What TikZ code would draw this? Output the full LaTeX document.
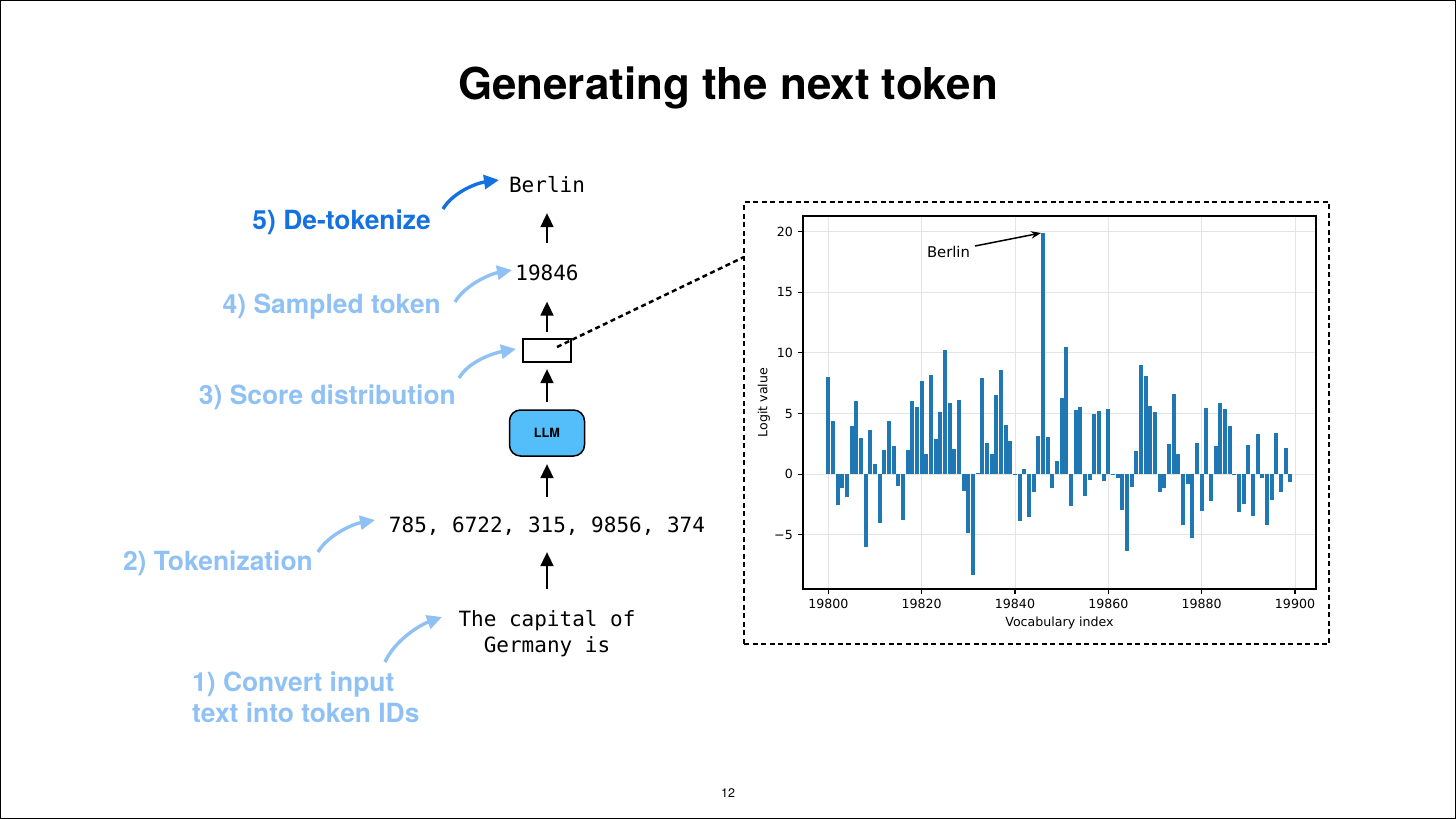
\documentclass[tikz,border=0pt]{standalone}
\usepackage{fontspec}
\setmainfont{TeX Gyre Heros}
\newfontfamily\monofont{DejaVu Sans Mono}
\newfontfamily\plotfont{DejaVu Sans}
\usetikzlibrary{arrows.meta}
\definecolor{lblue}{RGB}{143,193,245}
\definecolor{dblue}{RGB}{20,113,226}
\definecolor{llmfill}{RGB}{84,190,250}
\definecolor{mplblue}{RGB}{31,119,180}
\definecolor{gridgray}{RGB}{228,228,228}
\begin{document}
\begin{tikzpicture}[x=1pt,y=-1pt,
  lbl/.style={font=\fontsize{26.4}{31}\selectfont\bfseries, text=lblue, inner sep=0pt},
  dlbl/.style={font=\fontsize{26.4}{31}\selectfont\bfseries, text=dblue, inner sep=0pt},
  monotext/.style={font=\monofont\fontsize{21}{25.5}\selectfont, inner sep=0pt},
  curvearrow/.style={line width=3.4pt, color=lblue, -{Triangle[length=15pt,width=14pt]}},
  dcurvearrow/.style={curvearrow, color=dblue},
  barrow/.style={line width=2.8pt, -{Triangle[length=14pt,width=12.5pt]}},
  plottext/.style={font=\plotfont\fontsize{12.6}{15}\selectfont, inner sep=0pt},
  dashedline/.style={line width=2.5pt, dash pattern=on 5pt off 3.5pt}
]
\useasboundingbox (0,0) rectangle (1456,819);
\draw[line width=1pt] (0.5,0.5) rectangle (1455.5,818.5);

% title and page number
\node[anchor=base, inner sep=0pt, font=\fontsize{43.9}{52}\selectfont\bfseries] (title) at (728,99) {Generating the next token};
\node[anchor=base, inner sep=0pt, font=\fontsize{12.5}{15}\selectfont] (page) at (728,797) {12};

% central column
\node[monotext, anchor=base] (berlin) at (547,192) {Berlin};
\node[monotext, anchor=base] (tok) at (547,280) {19846};
\node[draw, line width=2pt, minimum width=48pt, minimum height=23pt, inner sep=0pt] (score) at (547,350.5) {};
\node[draw, line width=1.5pt, fill=llmfill, rounded corners=11pt, minimum width=75pt, minimum height=46pt, inner sep=0pt,
      font=\fontsize{12.7}{15}\selectfont\bfseries] (llm) at (547,433) {LLM};
\node[monotext, anchor=base] (ids) at (547,532) {785, 6722, 315, 9856, 374};
\node[monotext, anchor=base, align=center] (input) at (547,652) {The capital of\\Germany is};

\coordinate (a1s) at (547,243); \coordinate (a1e) at (547,213);
\coordinate (a2s) at (547,332); \coordinate (a2e) at (547,301.5);
\coordinate (a3s) at (547,402); \coordinate (a3e) at (547,369);
\coordinate (a4s) at (547,497); \coordinate (a4e) at (547,464);
\coordinate (a5s) at (547,589); \coordinate (a5e) at (547,552);
\draw[barrow] (a1s) -- (a1e);
\draw[barrow] (a2s) -- (a2e);
\draw[barrow] (a3s) -- (a3e);
\draw[barrow] (a4s) -- (a4e);
\draw[barrow] (a5s) -- (a5e);

% step labels
\node[dlbl, anchor=base east] (l5) at (431,229.5) {5) De-tokenize};
\node[lbl, anchor=base east] (l4) at (441,313.5) {4) Sampled token};
\node[lbl, anchor=base east] (l3) at (456,404.5) {3) Score distribution};
\node[lbl, anchor=base east] (l2) at (313,570.5) {2) Tokenization};
\node[lbl, anchor=base west, align=left] (l1) at (192,722.5) {1) Convert input\\text into token IDs};

\coordinate (c5s) at (443,209); \coordinate (c5e) at (499,180);
\coordinate (c4s) at (455,302); \coordinate (c4e) at (512,270);
\coordinate (c3s) at (459,378); \coordinate (c3e) at (516,349);
\coordinate (c2s) at (318,552); \coordinate (c2e) at (375,520);
\coordinate (c1s) at (385,662); \coordinate (c1e) at (442,617);
\draw[dcurvearrow] (c5s) .. controls +(10,-17) and +(-22,3) .. (c5e);
\draw[curvearrow] (c4s) .. controls +(10,-17) and +(-22,4) .. (c4e);
\draw[curvearrow] (c3s) .. controls +(10,-17) and +(-22,4) .. (c3e);
\draw[curvearrow] (c2s) .. controls +(10,-17) and +(-22,4) .. (c2e);
\draw[curvearrow] (c1s) .. controls +(10,-22) and +(-22,8) .. (c1e);

% dashed frame and connector
\node[draw, dashedline, minimum width=585pt, minimum height=442pt, inner sep=0pt] (frame) at (1036.5,423) {};
\coordinate (dl1) at (557,347);
\coordinate (dl2) at (744,257);
\draw[dashedline] (dl1) -- (dl2);

% chart
\begin{scope}[shift={(828.3,474.1)}, x=4.667pt, y=12.12pt]
  % grid
  \foreach \gx in {0,20,...,100} \draw[gridgray, line width=0.9pt] (\gx,-9.48) -- (\gx,21.3);
  \foreach \gy in {-5,0,...,20} \draw[gridgray, line width=0.9pt] (-5.42,\gy) -- (104.5,\gy);
  % bars
  \foreach \v [count=\i from 0] in {8.0, 4.38, -2.55, -1.17, -1.9, 4.0, 6.05, 2.97, -6.0, 3.6,
    0.86, -4.05, 2.0, 4.38, 2.3, -0.97, -3.75, 1.97, 6.02, 5.5,
    7.7, 1.66, 8.2, 2.86, 5.16, 10.26, 5.85, 2.05, 6.13, -1.36,
    -4.9, -8.3, 0.08, 7.93, 2.55, 1.64, 6.55, 8.63, 4.02, 2.72,
    -0.11, -3.86, 0.42, -3.55, -1.44, 3.13, 19.9, 3.1, -1.11, 1.05,
    6.3, 10.5, -2.64, 5.33, 5.55, -1.8, -0.5, 5.0, 5.19, -0.55,
    5.35, -0.03, -0.33, -2.94, -6.38, -1.05, 1.91, 9.0, 8.07, 5.66,
    5.1, -1.47, -1.11, 2.47, 6.63, 1.64, -4.22, -0.83, -5.3, 2.55,
    -3.02, 5.44, -2.25, 2.3, 5.85, 5.35, 3.97, -0.11, -3.16, -2.47,
    2.41, -3.47, 3.27, -0.3, -4.16, -2.16, 3.41, -1.47, 2.16, -0.67}
    \fill[mplblue] (\i-0.4,0) rectangle (\i+0.4,\v);
  % axes
  \draw[line width=1.2pt] (-5.42,-9.48) rectangle (104.5,21.3);
  \foreach \gx/\t in {0/19800,20/19820,40/19840,60/19860,80/19880,100/19900} {
    \draw[line width=1.1pt] (\gx,-9.48) -- ++(0,-5pt);
    \node[plottext, anchor=north] (xt\gx) at ([yshift=-9.5pt]\gx,-9.48) {\t};
  }
  \foreach \gy/\t in {-5/−5,0/0,5/5,10/10,15/15,20/20} {
    \draw[line width=1.1pt] (-5.42,\gy) -- ++(-5pt,0);
    \node[plottext, anchor=east] (yt\gy) at ([xshift=-10pt]-5.42,\gy) {\t};
  }
\end{scope}
\node[plottext, anchor=base] (xlab) at (1059.5,626) {Vocabulary index};
\node[plottext, rotate=90] (ylab) at (764,402.5) {Logit value};
\node[plottext, font=\plotfont\fontsize{14.8}{17}\selectfont] (annot) at (948.5,251.5) {Berlin};
\coordinate (ann1) at (975,246);
\coordinate (ann2) at (1041,233);
\draw[line width=1.5pt, -{Stealth[length=10pt,width=7.5pt]}] (ann1) -- (ann2);
\end{tikzpicture}
\end{document}
